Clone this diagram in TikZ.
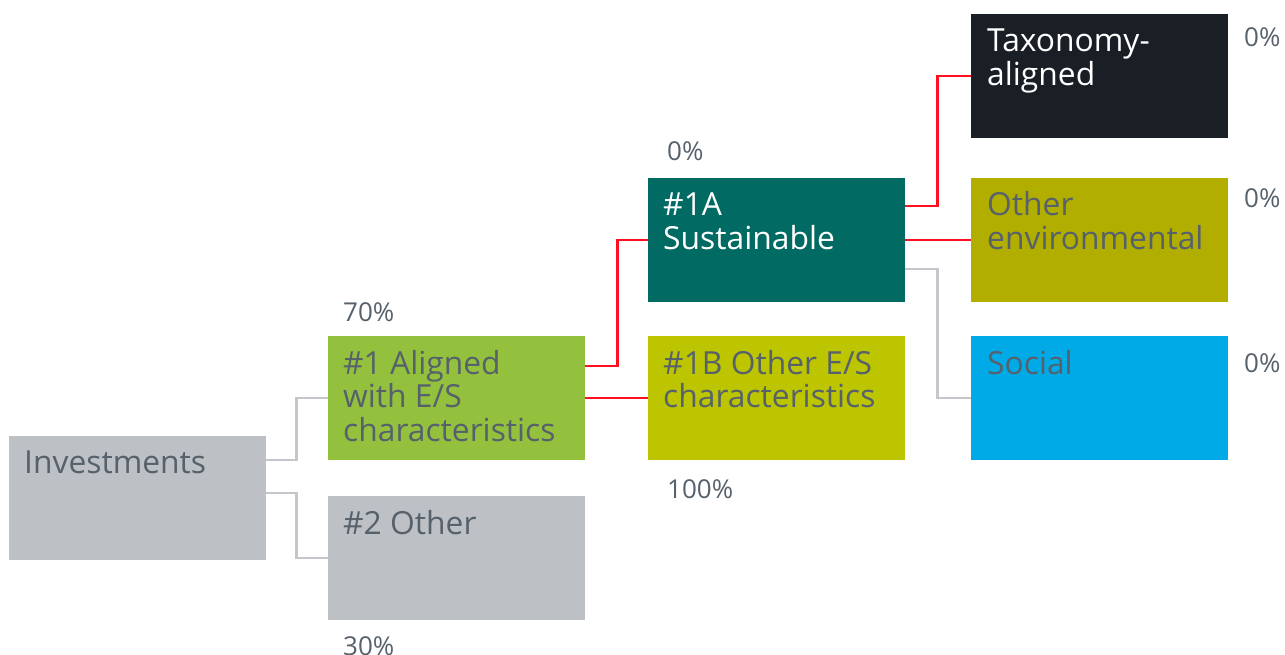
\documentclass[tikz,border=0pt]{standalone}
\usepackage{fontspec}
\setmainfont{Open Sans}
\usetikzlibrary{calc}
\definecolor{txt}{HTML}{56616B}
\definecolor{cgray}{HTML}{BDC0C4}
\definecolor{cgreen}{HTML}{93C13E}
\definecolor{cteal}{HTML}{006A63}
\definecolor{cdark}{HTML}{1A1F26}
\definecolor{colive}{HTML}{B2AE00}
\definecolor{clime}{HTML}{BCC500}
\definecolor{ccyan}{HTML}{00AAE7}
\definecolor{linegray}{HTML}{C3C6CA}
\definecolor{linered}{HTML}{FF1020}
\newcommand{\lines}[1]{\begin{tabular}[t]{@{}l@{}}#1\end{tabular}}
\begin{document}
\begin{tikzpicture}[x=1pt,y=-1pt,
  box/.style={draw=none, minimum width=257pt, minimum height=124pt, inner sep=0pt, anchor=north west},
  lbl/.style={anchor=base west, inner sep=0pt, font=\fontsize{31.8}{32}\selectfont, text=txt},
  wlbl/.style={lbl, text=white},
  pct/.style={anchor=base west, inner sep=0pt, font=\fontsize{26}{30}\selectfont, text=txt},
  grayline/.style={draw=linegray, line width=2.5pt},
  redline/.style={draw=linered, line width=2.5pt}]
\useasboundingbox (0,0) rectangle (1285,655);
% boxes
\node[box, fill=cgray]  (inv) at (9,436) {};
\node[box, fill=cgreen] (a1)  at (328,336) {};
\node[box, fill=cgray]  (o2)  at (328,496) {};
\node[box, fill=cteal]  (s1a) at (648,178) {};
\node[box, fill=clime]  (s1b) at (648,336) {};
\node[box, fill=cdark]  (tax) at (971,14) {};
\node[box, fill=colive] (env) at (971,178) {};
\node[box, fill=ccyan]  (soc) at (971,336) {};
% box texts
\node[lbl]  (invt) at ($(inv.north west)+(15,37)$) {\lines{Investments}};
\node[lbl]  (a1t)  at ($(a1.north west)+(15,38)$) {\lines{\#1 Aligned\\with E/S\\characteristics}};
\node[lbl]  (o2t)  at ($(o2.north west)+(15,38)$) {\lines{\#2 Other}};
\node[wlbl] (s1at) at ($(s1a.north west)+(15,38)$) {\lines{\#1A\\Sustainable}};
\node[lbl]  (s1bt) at ($(s1b.north west)+(15,38)$) {\lines{\#1B Other E/S\\characteristics}};
\node[wlbl] (taxt) at ($(tax.north west)+(16,38)$) {\lines{Taxonomy-\\aligned}};
\node[lbl]  (envt) at ($(env.north west)+(16,38)$) {\lines{Other\\environmental}};
\node[lbl]  (soct) at ($(soc.north west)+(16,38)$) {\lines{Social}};
% percentages
\node[pct] (p70)  at (343,321) {70\%};
\node[pct] (p30)  at (343,655) {30\%};
\node[pct] (p0a)  at (667,161) {0\%};
\node[pct] (p100) at (667,498) {100\%};
\node[pct] (p0t)  at (1244,47) {0\%};
\node[pct] (p0e)  at (1244,208) {0\%};
\node[pct] (p0s)  at (1244,372) {0\%};
% connectors
\draw[grayline] ($(inv.north east)+(0,24)$) -- ++(30,0) |- (a1.west);
\draw[grayline] ($(inv.north east)+(0,57)$) -- ++(30,0) |- (o2.west);
\draw[redline]  ($(a1.north east)+(0,30)$) -- ++(32,0) |- (s1a.west);
\draw[redline]  (a1.east) -- (s1b.west);
\draw[redline]  ($(s1a.north east)+(0,28)$) -- ++(32,0) |- (tax.west);
\draw[redline]  (s1a.east) -- (env.west);
\draw[grayline] ($(s1a.north east)+(0,91)$) -- ++(32,0) |- (soc.west);
\end{tikzpicture}
\end{document}
